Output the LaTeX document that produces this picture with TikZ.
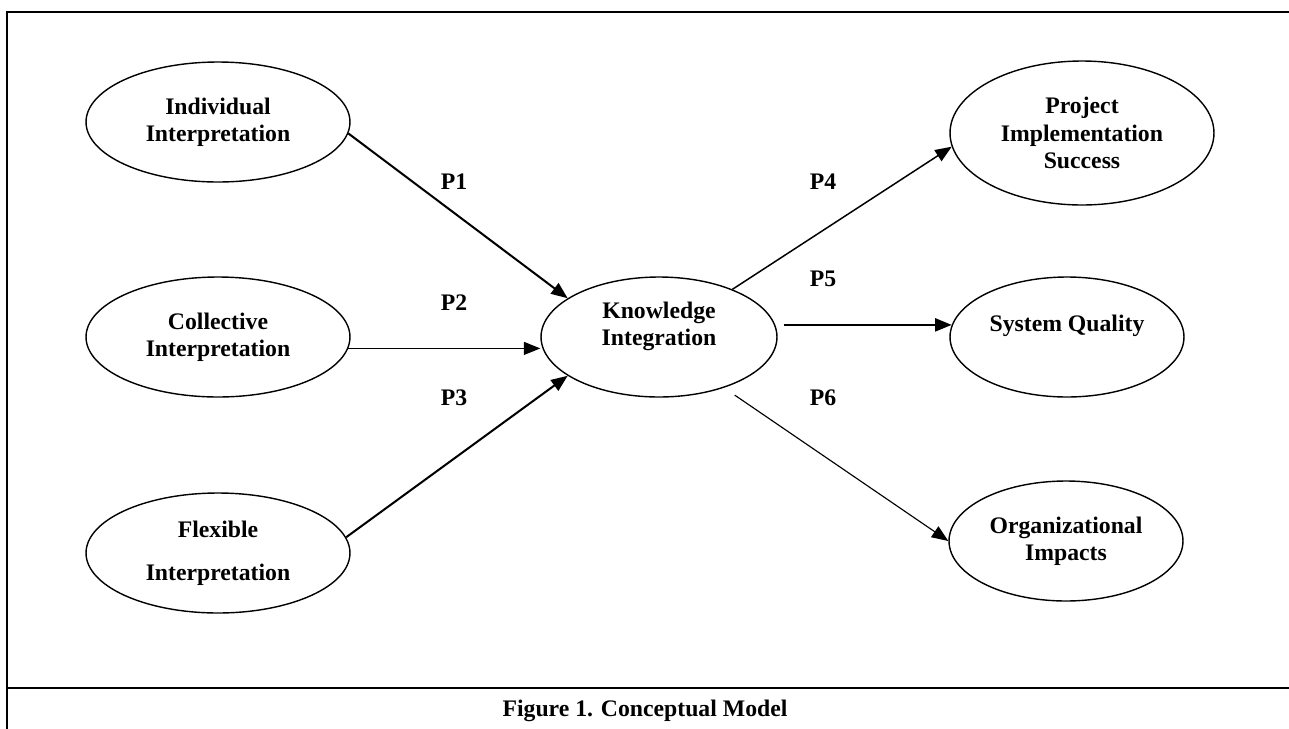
\documentclass[tikz,border=0pt]{standalone}
\usepackage{fontspec}
\setmainfont{Liberation Serif}
\usetikzlibrary{arrows.meta,positioning,shapes.geometric}

\begin{document}
\begin{tikzpicture}[
  x=0.02cm,y=-0.02cm,
  construct/.style={draw,ellipse,line width=0.8pt,inner sep=0pt,align=center,
                    minimum width=5.28cm,minimum height=2.4cm,
                    font=\fontsize{13.5}{15.5}\selectfont\bfseries},
  arr/.style={-{Triangle[length=3.3mm,width=2.6mm]},line width=1.15pt},
  thinarr/.style={arr,line width=0.65pt},
  plabel/.style={font=\fontsize{13.5}{15.5}\selectfont\bfseries,inner sep=0pt},
  frame/.style={line width=1.2pt}
]
\useasboundingbox (0,0) rectangle (1289,728);
% frame and caption strip
\draw[frame] (1292,12) -- (7,12) -- (7,730);
\draw[frame] (7,688) -- (1292,688);
\node[plabel] (caption) at (645,711) {Figure 1. Conceptual Model};

% antecedents
\node[construct] (ind) at (218,122) {Individual\\Interpretation};
\node[construct] (col) at (218,337) {Collective\\Interpretation};
\node[construct] (flex) at (218,553) {Flexible\\[9pt]Interpretation};
% mediator
\node[construct,minimum width=4.72cm] (know) at (659,337) {Knowledge\\Integration\\~};
% outcomes
\node[construct,minimum height=2.88cm] (proj) at (1082,133) {Project\\Implementation\\Success};
\node[construct,minimum width=4.68cm] (sys) at (1067,337) {System Quality\\~};
\node[construct,minimum width=4.68cm] (org) at (1066,541) {Organizational\\Impacts};

% propositions
\draw[arr] (ind.-5) -- (know.157);
\draw[thinarr] (col.-5) -- (col.-5 -| know.west);
\draw[arr] (flex.7) -- (know.203);
\draw[thinarr,line width=0.85pt] (know.33) -- (proj.186);
\draw[arr,shorten <=0.12cm] (know.east |- sys.174) -- (sys.174);
\draw[thinarr,shorten <=0.26cm] (know.-38) -- (org.west);

\node[plabel] (p1) at (454,182) {P1};
\node[plabel] (p2) at (454,303) {P2};
\node[plabel] (p3) at (454,398) {P3};
\node[plabel] (p4) at (823,182) {P4};
\node[plabel] (p5) at (823,279) {P5};
\node[plabel] (p6) at (823,398) {P6};
\end{tikzpicture}
\end{document}
